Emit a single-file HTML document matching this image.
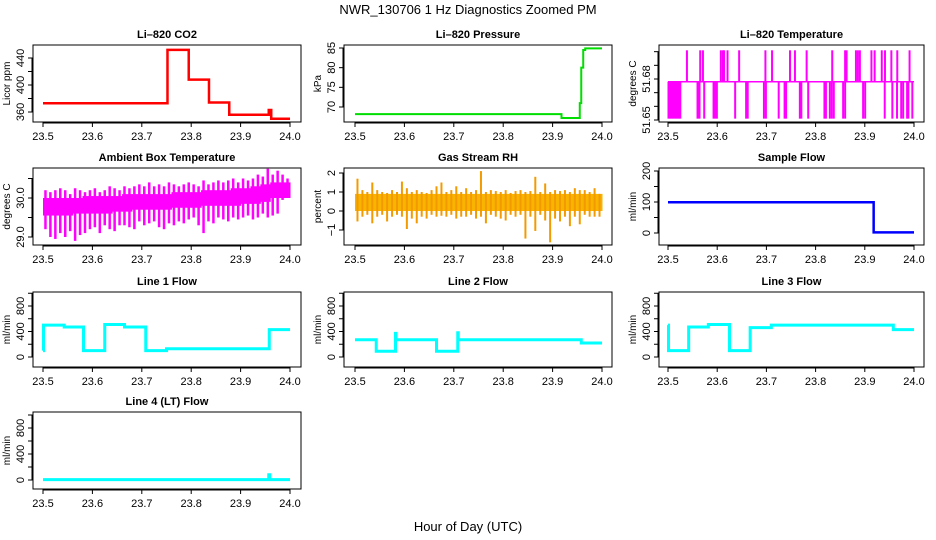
<!DOCTYPE html>
<html><head><meta charset="utf-8"><style>
body{margin:0;background:#fff}
svg{display:block;font-family:"Liberation Sans",Arial,sans-serif}
</style></head><body>
<svg id="c" width="936" height="540" viewBox="0 0 936 540">
<text x="468" y="14" text-anchor="middle" font-size="13">NWR_130706  1 Hz Diagnostics Zoomed PM</text>
<text x="468" y="531" text-anchor="middle" font-size="13">Hour of Day (UTC)</text>
</svg>
<script>
// ---- data ----
const xTicks = [23.5,23.6,23.7,23.8,23.9,24.0];
const xTickLabels = ["23.5","23.6","23.7","23.8","23.9","24.0"];
const co2T = [23.752,23.795,23.836,23.877,23.957,23.962,24.0];
const co2V = [373,452,408,374,356,363,350];
const presT = [23.918,23.955,23.958,23.962,23.966,24.0];
const presV = [68.2,67.2,71,80,84.5,84.9];
const sflowT = [23.918,24.0];
const sflowV = [99,2];
const l1T = [23.501,23.543,23.582,23.625,23.665,23.708,23.75,23.958,24.0];
const l1V = [100,500,470,100,510,470,100,130,430];
const l2T = [23.543,23.582,23.583,23.665,23.708,23.709,23.958,24.0];
const l2V = [270,90,370,270,90,380,270,220];
const l3T = [23.501,23.542,23.582,23.625,23.667,23.71,23.958,24.0];
const l3V = [500,100,470,510,100,460,500,430];
const l4T = [23.957,23.959,24.0];
const l4V = [5,80,5];
const ltBase = 51.678;
const ltHighVal = 51.701;
const ltLowVal = 51.651;
const ltHigh = [23.5385,23.5655,23.571,23.6074,23.6115,23.614,23.621,23.6446,23.698,23.7115,23.748,23.758,23.7818,23.8338,23.86,23.863,23.882,23.886,23.89,23.9135,23.92,23.9345,23.941,23.954,23.966,23.991];
const ltLow = [23.501,23.504,23.507,23.51,23.513,23.516,23.519,23.522,23.525,23.56,23.564,23.5736,23.5926,23.596,23.5993,23.6365,23.6588,23.662,23.695,23.699,23.725,23.737,23.74,23.768,23.771,23.785,23.818,23.821,23.829,23.833,23.837,23.856,23.86,23.8966,23.9007,23.9405,23.956,23.9655,23.974,23.978,23.986,23.9885,23.9966];
const ambLow = [29.2,29.0,28.95,29.1,29.0,29.15,28.9,29.05,29.1,29.2,29.25,29.1,29.3,29.2,29.15,29.3,29.3,29.25,29.2,29.4,29.3,29.35,29.4,29.25,29.2,29.35,29.3,29.4,29.35,29.45,29.5,29.3,29.1,29.4,29.35,29.5,29.45,29.4,29.5,29.45,29.5,29.55,29.45,29.5,29.6,29.5,29.55,29.6,29.95,30.0];
const ambHigh = [30.2,30.15,30.2,30.25,30.2,30.1,30.25,30.2,30.15,30.2,30.25,30.15,30.2,30.3,30.25,30.2,30.3,30.25,30.3,30.35,30.3,30.4,30.3,30.35,30.3,30.4,30.35,30.3,30.35,30.4,30.35,30.3,30.45,30.35,30.4,30.45,30.4,30.45,30.5,30.4,30.5,30.45,30.5,30.6,30.55,30.75,30.6,30.7,30.6,30.5];
const ambBandLo = [29.55,29.55,29.55,29.6,29.6,29.6,29.6,29.65,29.65,29.7,29.7,29.7,29.7,29.75,29.75,29.75,29.8,29.8,29.8,29.8,29.85,29.85,29.9,30.0,30.0];
const ambBandHi = [30.0,30.0,30.0,30.0,30.05,30.05,30.05,30.05,30.1,30.1,30.1,30.1,30.1,30.15,30.15,30.15,30.2,30.2,30.2,30.25,30.25,30.3,30.35,30.4,30.4];
const rhHigh = [1.7,1.1,1.0,1.5,1.1,1.0,0.95,1.1,1.0,1.55,1.2,1.0,1.1,1.0,0.95,1.1,1.3,1.5,1.0,1.1,1.3,1.0,1.2,1.0,1.1,2.1,1.0,1.1,1.05,1.0,1.1,0.95,1.05,1.1,1.0,1.05,1.8,1.0,1.45,1.0,1.1,1.05,1.1,1.0,1.2,1.1,1.1,1.0,1.2,0.9];
const rhLow = [-0.55,-0.3,-0.2,-0.65,-0.3,-0.2,-0.55,-0.3,-0.2,-0.3,-0.95,-0.4,-0.65,-0.3,-0.4,-0.2,-0.3,-0.25,-0.3,-0.2,-0.4,-0.3,-0.3,-0.2,-0.4,-0.3,-0.65,-0.2,-0.3,-0.4,-0.5,-0.2,-0.3,-0.2,-1.45,-0.3,-1.05,-0.2,-0.5,-1.65,-0.4,-0.55,-0.3,-0.8,-0.3,-0.7,-0.2,-0.3,-0.3,-0.3];
const rhBandLo = [0.0];
const rhBandHi = [0.9];

// ---- layout ----
const NS="http://www.w3.org/2000/svg";
const svg=document.getElementById('c');
const cols=[{l:33,r:301,x0:43,x1:290},{l:344,r:612,x0:355,x1:602},{l:659,r:924,x0:668,x1:914}];
const rows=[{t:45,b:122},{t:168,b:245},{t:292,b:367},{t:412,b:489}];
function el(tag,attrs,parent){const e=document.createElementNS(NS,tag);for(const k in attrs)e.setAttribute(k,attrs[k]);(parent||svg).appendChild(e);return e;}

function panel(name,title,ci,ri,ylab,v0,p0,v1,p1,yt,ytl){
  const c=cols[ci],r=rows[ri];
  const g=el('g',{});
  
  
  const xs=h=>c.x0+(h-23.5)/0.5*(c.x1-c.x0);
  const ys=v=>p0+(v-v0)/(v1-v0)*(p1-p0);
  const t=el('text',{x:(c.l+c.r)/2,y:r.t-7,'text-anchor':'middle','font-size':'11','font-weight':'bold'},g);
  t.textContent=title;
  
  
  const data=el('g',{},g);
  
  
  const b=el('rect',{x:c.l,y:r.t,width:c.r-c.l,height:r.b-r.t,fill:'none',stroke:'#000','stroke-width':1},g);
  
  
  const xa=el('g',{},g);
  
  
  el('line',{x1:xs(23.5),x2:xs(24),y1:r.b+1,y2:r.b+1,stroke:'#000'},xa);
  xTicks.forEach((h,i)=>{el('line',{x1:xs(h),x2:xs(h),y1:r.b,y2:r.b+5,stroke:'#000'},xa);
    const tl=el('text',{x:xs(h),y:r.b+18,'text-anchor':'middle','font-size':'11'},xa);tl.textContent=xTickLabels[i];});
  const ya=el('g',{},g);
  
  
  el('line',{x1:c.l-1,x2:c.l-1,y1:ys(yt[0]),y2:ys(yt[yt.length-1]),stroke:'#000'},ya);
  yt.forEach((v,i)=>{const y=ys(v);el('line',{x1:c.l-5,x2:c.l,y1:y,y2:y,stroke:'#000'},ya);
    if(ytl[i]){const tl=el('text',{x:0,y:0,transform:`translate(${c.l-9},${y}) rotate(-90)`,'text-anchor':'middle','font-size':'11'},ya);tl.textContent=ytl[i];}});
  const yl=el('text',{x:0,y:0,transform:`translate(${c.l-23},${(r.t+r.b)/2}) rotate(-90)`,'text-anchor':'middle','font-size':'10'},g);
  yl.textContent=ylab;
  
  
  return {xs,ys,g:data};
}
function steps(p,T,V,color,w){
  let d='',prev=23.5;
  T.forEach((t,i)=>{d+=(i?'L':'M')+p.xs(prev)+','+p.ys(V[i])+'L'+p.xs(t)+','+p.ys(V[i]);prev=t;});
  const path=el('path',{d,fill:'none',stroke:color,'stroke-width':w},p.g);
  
  
}
function band(p,bLo,bHi,color){
  const n=bLo.length;
  for(let i=0;i<n;i++){
    const h0=23.5+i*0.5/n,h1=23.5+(i+1)*0.5/n;
    const r=el('rect',{x:p.xs(h0),y:p.ys(bHi[i]),width:p.xs(h1)-p.xs(h0)+0.5,height:p.ys(bLo[i])-p.ys(bHi[i]),fill:color},p.g);
    
    
  }
}
function ranges(p,lo,hi,color,w){
  const n=lo.length;
  for(let i=0;i<n;i++){
    const xm=p.xs(23.5+(i+0.5)*0.5/n);
    const l=el('line',{x1:xm,x2:xm,y1:p.ys(lo[i]),y2:p.ys(hi[i]),stroke:color,'stroke-width':w},p.g);
    
    
  }
}

let p=panel('co2','Li\u2013820 CO2',0,0,'Licor ppm',360,112,440,58,[360,380,400,420,440],['360','','400','','440']);
steps(p,co2T,co2V,'#ff0000',2.5);
p=panel('pressure','Li\u2013820 Pressure',1,0,'kPa',70,107,85,48,[70,75,80,85],['70','75','80','85']);
steps(p,presT,presV,'#00dd00',2);
p=panel('li820-temp','Li\u2013820 Temperature',2,0,'degrees C',51.65,120,51.68,79,[51.65,51.66,51.67,51.68,51.69,51.70],['51.65','','','51.68','','']);
ltHigh.forEach(h=>{const l=el('line',{x1:p.xs(h),x2:p.xs(h),y1:p.ys(ltBase),y2:p.ys(ltHighVal),stroke:'#ff00ff','stroke-width':2},p.g);});
ltLow.forEach(h=>{const l=el('line',{x1:p.xs(h),x2:p.xs(h),y1:p.ys(ltBase),y2:p.ys(ltLowVal),stroke:'#ff00ff','stroke-width':2},p.g);});
steps(p,[24.0],[ltBase],'#ff00ff',1.5);
p=panel('ambient-temp','Ambient Box Temperature',0,1,'degrees C',29.0,237,30.0,198,[29.0,29.5,30.0,30.5],['29.0','','30.0','']);
band(p,ambBandLo,ambBandHi,'#ff00ff');
ranges(p,ambLow,ambHigh,'#ff00ff',2.5);
p=panel('gas-rh','Gas Stream RH',1,1,'percent',2,173,-1,230,[-1,0,1,2],['\u22121','0','1','2']);
band(p,rhBandLo,rhBandHi,'#f9b400');
ranges(p,rhLow,rhHigh,'#f39a00',2);
p=panel('sample-flow','Sample Flow',2,1,'ml/min',0,233,200,171,[0,50,100,150,200],['0','','100','','200']);
steps(p,sflowT,sflowV,'#0000ff',2.5);
const ft=[0,200,400,600,800,1000],ftl=['0','','400','','800',''];
p=panel('line1-flow','Line 1 Flow',0,2,'ml/min',0,357,800,306,ft,ftl);steps(p,l1T,l1V,'#00ffff',3);
p=panel('line2-flow','Line 2 Flow',1,2,'ml/min',0,357,800,306,ft,ftl);steps(p,l2T,l2V,'#00ffff',3);
p=panel('line3-flow','Line 3 Flow',2,2,'ml/min',0,357,800,306,ft,ftl);steps(p,l3T,l3V,'#00ffff',3);
p=panel('line4-flow','Line 4 (LT) Flow',0,3,'ml/min',0,480,800,428,ft,ftl);steps(p,l4T,l4V,'#00ffff',3);
</script>
</body></html>
